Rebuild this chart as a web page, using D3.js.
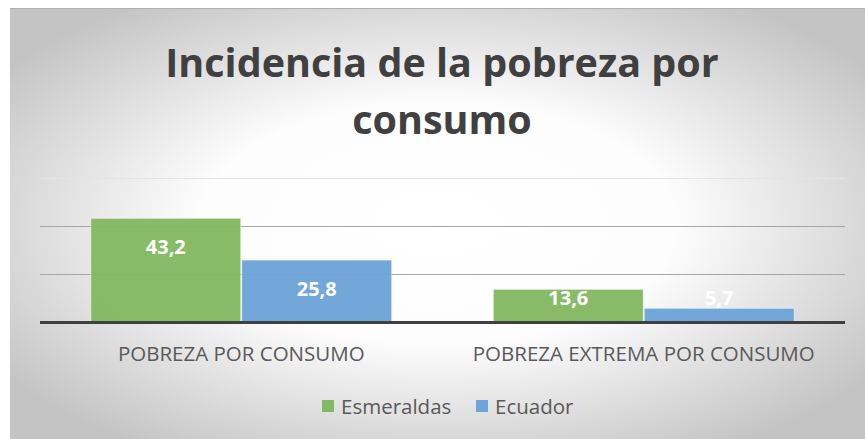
<!DOCTYPE html>
<html>
<head>
  <meta charset="utf-8" />
  <script src="https://cdn.jsdelivr.net/npm/d3@7/dist/d3.min.js"></script>
  <style>
    body { margin: 0; background: #fff; }
    svg { display: block; }
  </style>
</head>
<body>
  <svg id="chart" width="865" height="439"></svg>
  <script>
  // data
  var categories = ['POBREZA POR CONSUMO', 'POBREZA EXTREMA POR CONSUMO']
  var seriesNames = ['Esmeraldas', 'Ecuador']
  var esmeraldas = [43.2, 13.6]
  var ecuador = [25.8, 5.7]
  var yTicks = [0, 20, 40, 60]
  var colors = ['#83b962', '#6fa4d8']

  var svg = d3.select('#chart')
  var W = 865, H = 439

  // background: radial gradient like the office chart
  var defs = svg.append('defs')
  var grad = defs.append('radialGradient')
    .attr('id', 'bg')
    .attr('cx', '50%').attr('cy', '50%').attr('r', '62%')
  grad.append('stop').attr('offset', '0%').attr('stop-color', '#ffffff')
  grad.append('stop').attr('offset', '45%').attr('stop-color', '#fdfdfd')
  grad.append('stop').attr('offset', '100%').attr('stop-color', '#c4c4c4')

  svg.append('rect')
    .attr('x', 10).attr('y', 8)
    .attr('width', W - 10).attr('height', H - 8)
    .attr('fill', 'url(#bg)')
  svg.append('line')
    .attr('x1', 10).attr('x2', W).attr('y1', 8.5).attr('y2', 8.5)
    .attr('stroke', '#b0b0b0')

  // title
  var title = svg.append('text')
    .attr('text-anchor', 'middle')
    .style('font-family', '"Open Sans", sans-serif')
    .style('font-weight', 'bold')
    .style('font-size', '39.5px')
    .attr('fill', '#404040')
  title.append('tspan').attr('x', 442).attr('y', 77).text('Incidencia de la pobreza por')
  title.append('tspan').attr('x', 442).attr('y', 134).text('consumo')

  // scales
  var x0 = d3.scaleBand().domain(categories).range([40, 845]).paddingInner(0.25).paddingOuter(0.125)
  var x1 = d3.scaleBand().domain(seriesNames).range([0, x0.bandwidth()])
  var y = d3.scaleLinear().domain([0, 60]).range([322, 178])

  // gridlines
  svg.append('g').selectAll('line')
    .data(yTicks.slice(1))
    .enter().append('line')
    .attr('x1', 40).attr('x2', 845)
    .attr('y1', d => Math.round(y(d)) + 0.5)
    .attr('y2', d => Math.round(y(d)) + 0.5)
    .attr('stroke', (d, i) => i === 2 ? '#e4e4e4' : '#a6a6a6')
    .attr('stroke-width', 1)

  // bars
  var rows = []
  categories.forEach((c, i) => {
    rows.push({cat: c, s: 'Esmeraldas', v: esmeraldas[i], color: colors[0]})
    rows.push({cat: c, s: 'Ecuador', v: ecuador[i], color: colors[1]})
  })

  svg.append('g').selectAll('rect')
    .data(rows)
    .enter().append('rect')
    .attr('x', d => x0(d.cat) + x1(d.s) + 0.5)
    .attr('y', d => y(d.v))
    .attr('width', x1.bandwidth() - 1)
    .attr('height', d => y(0) - y(d.v))
    .attr('fill', d => d.color)
    .attr('fill-opacity', 0.97)
    .attr('stroke', '#ffffff')
    .attr('stroke-opacity', 0.5)

  // baseline axis
  svg.append('line')
    .attr('x1', 40).attr('x2', 845)
    .attr('y1', y(0) + 0.5).attr('y2', y(0) + 0.5)
    .attr('stroke', '#404040').attr('stroke-width', 3)

  // value labels
  svg.append('g').selectAll('text')
    .data(rows)
    .enter().append('text')
    .attr('x', d => x0(d.cat) + x1(d.s) + x1.bandwidth() / 2)
    .attr('y', d => Math.min(y(d.v) + 36, y(0) - 17))
    .attr('text-anchor', 'middle')
    .style('font-family', '"Open Sans", sans-serif')
    .style('font-weight', 'bold')
    .style('font-size', '20px')
    .attr('fill', '#ffffff')
    .text(d => d3.format('.1f')(d.v).replace('.', ','))

  // category labels
  svg.append('g').selectAll('text')
    .data(categories)
    .enter().append('text')
    .attr('x', d => x0(d) + x0.bandwidth() / 2)
    .attr('y', 361)
    .attr('text-anchor', 'middle')
    .style('font-family', '"Open Sans", sans-serif')
    .style('font-size', '20.5px')
    .attr('fill', '#595959')
    .text(d => d)

  // legend
  var legend = svg.append('g')
  var lx = [322, 476]
  seriesNames.forEach((s, i) => {
    legend.append('rect')
      .attr('x', lx[i]).attr('y', 400)
      .attr('width', 12).attr('height', 12)
      .attr('fill', colors[i])
    legend.append('text')
      .attr('x', lx[i] + 19).attr('y', 414)
      .style('font-family', '"Open Sans", sans-serif')
      .style('font-size', '20.5px')
      .attr('fill', '#595959')
      .text(s)
  })
  </script>
</body>
</html>
